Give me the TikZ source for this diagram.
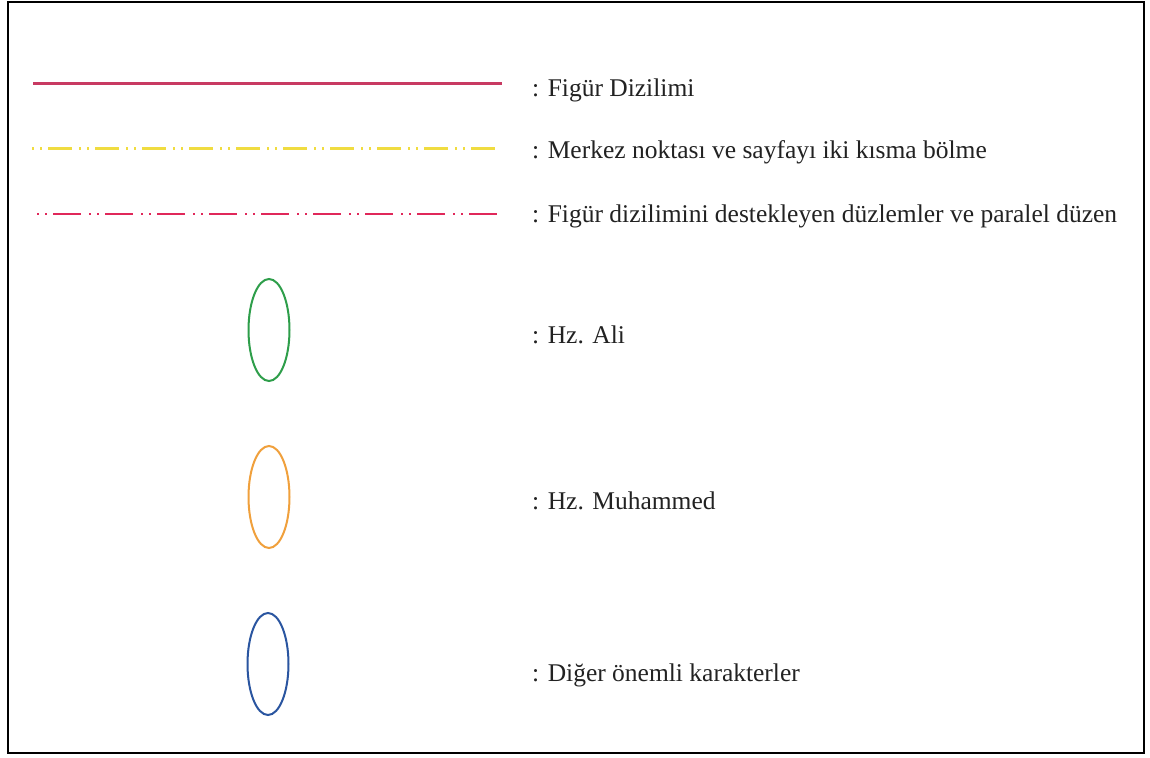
\documentclass[tikz,border=0pt]{standalone}
\usepackage{fontspec}
\setmainfont{Liberation Serif}
\usetikzlibrary{shapes.geometric}
\definecolor{solidred}{HTML}{C83A62}
\definecolor{dashred}{HTML}{E0285A}
\definecolor{dashyellow}{HTML}{F0DC40}
\definecolor{aligreen}{HTML}{2E9E4A}
\definecolor{muhorange}{HTML}{F0A03C}
\definecolor{othblue}{HTML}{2A55A0}
\definecolor{txt}{HTML}{222222}
\begin{document}
\begin{tikzpicture}[x=1bp,y=-1bp,
  lbl/.style={anchor=base west,inner sep=0pt,text=txt,font=\fontsize{25.5bp}{30bp}\selectfont},
  oval/.style={ellipse,draw,line width=2bp,minimum width=41bp,minimum height=102bp,inner sep=0pt},
  legline/.style={line width=2.5bp}]
\useasboundingbox (0,0) rectangle (1150,758);
\fill[white] (0,0) rectangle (1150,758);
\draw[line width=2bp,black] (7.5,2) rectangle (1144,753);
% lines
\coordinate (s1) at (33,83.5);
\coordinate (e1) at (502,83.5);
\draw[legline,solidred] (s1) -- (e1);
\coordinate (s2) at (32,148.5);
\coordinate (e2) at (500,148.5);
\draw[legline,dashyellow,dash pattern=on 2bp off 6bp on 2bp off 6bp on 24bp off 7bp] (s2) -- (e2);
\coordinate (s3) at (37,214);
\coordinate (e3) at (502,214);
\draw[legline,dashred,dash pattern=on 2bp off 6bp on 2bp off 6bp on 28bp off 8bp] (s3) -- (e3);
% ovals
\node[oval,draw=aligreen] (ali) at (269,330) {};
\node[oval,draw=muhorange] (muh) at (269,497) {};
\node[oval,draw=othblue] (oth) at (268,664) {};
% labels
\node[lbl] (t1) at (532,96.5) {: Figür Dizilimi};
\node[lbl] (t2) at (532,158.5) {: Merkez noktası ve sayfayı iki kısma bölme};
\node[lbl] (t3) at (532,222) {: Figür dizilimini destekleyen düzlemler ve paralel düzen};
\node[lbl] (t4) at (532,343.5) {: Hz. Ali};
\node[lbl] (t5) at (532,509) {: Hz. Muhammed};
\node[lbl] (t6) at (532,681) {: Diğer önemli karakterler};
\end{tikzpicture}
\end{document}
